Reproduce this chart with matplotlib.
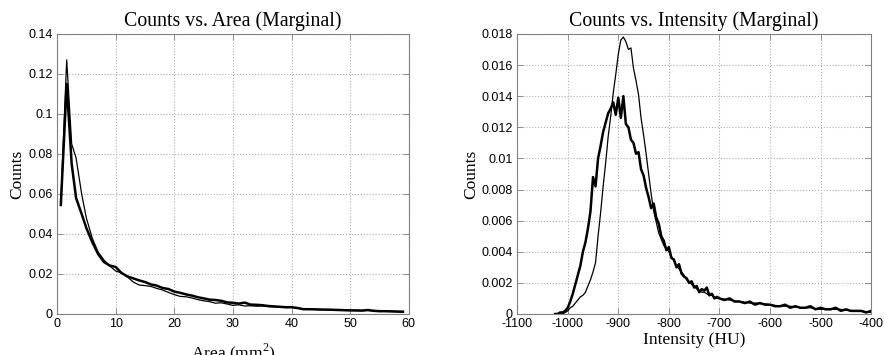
import matplotlib
matplotlib.use("Agg")
import matplotlib.pyplot as plt

# left panel: area marginals
area_x = [0.65, 1.65, 2.5, 3.25, 4.2, 5, 6, 7, 8, 9, 10, 11, 12, 13, 14, 15, 16, 17, 18, 19,
          20, 21, 22, 23, 24, 25, 26, 27, 28, 29, 30, 31, 32, 33, 34, 35, 36, 37, 38, 39,
          40, 41, 42, 43, 44, 45, 46, 47, 48, 49, 50, 51, 52, 53, 54, 55, 56, 57, 58, 59]
area_thick = [0.0545, 0.115, 0.075, 0.058, 0.050, 0.043, 0.036, 0.030, 0.026, 0.0242,
              0.0235, 0.0205, 0.0188, 0.0178, 0.0168, 0.016, 0.0148, 0.0142, 0.013, 0.0125,
              0.0112, 0.0106, 0.0098, 0.0092, 0.0084, 0.0078, 0.0072, 0.0070, 0.0066, 0.0058,
              0.0056, 0.0052, 0.0057, 0.0047, 0.0046, 0.0044, 0.0040, 0.0038, 0.0036, 0.0034,
              0.0034, 0.0030, 0.0024, 0.0024, 0.0023, 0.0022, 0.0022, 0.0021, 0.0020, 0.0019,
              0.0018, 0.0018, 0.0017, 0.0020, 0.0016, 0.0014, 0.0014, 0.0013, 0.0012, 0.0011]
area_thin = [0.056, 0.127, 0.085, 0.078, 0.060, 0.048, 0.038, 0.031, 0.027, 0.024,
             0.0215, 0.0205, 0.0185, 0.016, 0.0145, 0.0142, 0.0138, 0.0128, 0.012, 0.0108,
             0.0097, 0.0088, 0.0086, 0.0080, 0.0072, 0.0066, 0.0062, 0.0054, 0.0056, 0.0050,
             0.0043, 0.0046, 0.0040, 0.0041, 0.0039, 0.0040, 0.0037, 0.0036, 0.0034, 0.0032,
             0.0033, 0.0029, 0.0026, 0.0025, 0.0024, 0.0023, 0.0021, 0.0020, 0.0020, 0.0019,
             0.0018, 0.0017, 0.0017, 0.0018, 0.0015, 0.0015, 0.0014, 0.0014, 0.0013, 0.0013]

# right panel: intensity marginals
int_x_thick = list(range(-1025, -695, 5)) + list(range(-690, -395, 10))
int_thick = [0.0000, 0.0000, 0.0001, 0.0001, 0.0002, 0.0004, 0.0008, 0.0013, 0.0019, 0.0025,
             0.0031, 0.0040, 0.0046, 0.0055, 0.0066, 0.0088, 0.0082, 0.0100, 0.0108, 0.0117,
             0.0123, 0.0129, 0.0132, 0.0136, 0.0128, 0.0139, 0.0126, 0.0140, 0.0122, 0.0120,
             0.0112, 0.0110, 0.0103, 0.0104, 0.0093, 0.0089, 0.0081, 0.0075, 0.0068, 0.0071,
             0.0062, 0.0058, 0.0050, 0.0047, 0.0041, 0.0043, 0.0036, 0.0035, 0.0030, 0.0032,
             0.0026, 0.0024, 0.0023, 0.0020, 0.0021, 0.0017, 0.0018, 0.0014, 0.0016, 0.0015,
             0.0017, 0.0012, 0.0013, 0.0010, 0.0011, 0.0010,
             0.0009, 0.0010, 0.0008, 0.0008, 0.0007, 0.0008, 0.0006, 0.0007, 0.0006, 0.0006,
             0.0005, 0.0005, 0.0006, 0.0004, 0.0005, 0.0004, 0.0004, 0.0005, 0.0003, 0.0004,
             0.0003, 0.0003, 0.0004, 0.0002, 0.0003, 0.0002, 0.0002, 0.0002, 0.0001, 0.0002]
int_x_thin = list(range(-1015, -695, 5)) + list(range(-680, -395, 20))
int_thin = [0.0000, 0.0000, 0.0001, 0.0002, 0.0004, 0.0005, 0.0007, 0.0009, 0.0011, 0.0012,
            0.0014, 0.0018, 0.0022, 0.0027, 0.0033, 0.0050, 0.0065, 0.0082, 0.0097, 0.0114,
            0.0127, 0.0142, 0.0154, 0.0167, 0.0176, 0.0178, 0.0175, 0.0170, 0.0171, 0.0158,
            0.0150, 0.0141, 0.0126, 0.0115, 0.0103, 0.0090, 0.0077, 0.0066, 0.0059, 0.0052,
            0.0048, 0.0044, 0.0042, 0.0040, 0.0037, 0.0034, 0.0031, 0.0029, 0.0027, 0.0025,
            0.0022, 0.0021, 0.0019, 0.0018, 0.0016, 0.0015, 0.0014, 0.0014, 0.0013, 0.0012,
            0.0012, 0.0011, 0.0010, 0.0010,
            0.0009, 0.0008, 0.0007, 0.0007, 0.0006, 0.0005, 0.0005, 0.0004, 0.0004, 0.0003,
            0.0003, 0.0003, 0.0002, 0.0002, 0.0001]

plt.rcParams['font.family'] = 'Liberation Sans'
plt.rcParams['axes.unicode_minus'] = False
plt.rcParams['mathtext.fontset'] = 'custom'
plt.rcParams['mathtext.rm'] = 'Liberation Serif'

serif = 'Liberation Serif'

fig = plt.figure(figsize=(8.84, 3.55), dpi=100)
ax1 = fig.add_axes([0.0645, 0.1155, 0.398, 0.789])
ax2 = fig.add_axes([0.585, 0.1155, 0.4005, 0.789])


def style(ax):
    for s in ax.spines.values():
        s.set_color('#808080')
        s.set_linewidth(0.8)
    ax.tick_params(direction='in', top=True, right=True, length=4, width=0.6,
                   color='#808080', labelsize=9, labelcolor='black', pad=3)
    ax.grid(True, linestyle=':', color='#b0b0b0', linewidth=0.8)


ax1.plot(area_x, area_thin, color='black', lw=0.9)
ax1.plot(area_x, area_thick, color='black', lw=1.8)
ax1.set_xlim(0, 60)
ax1.set_ylim(0, 0.14)
ax1.set_xticks(range(0, 61, 10))
ax1.set_yticks([0, 0.02, 0.04, 0.06, 0.08, 0.1, 0.12, 0.14])
ax1.set_yticklabels(['0', '0.02', '0.04', '0.06', '0.08', '0.1', '0.12', '0.14'])
ax1.set_title('Counts vs. Area (Marginal)', fontfamily=serif, fontsize=14.3, pad=6)
ax1.set_ylabel('Counts', fontfamily=serif, fontsize=12.5, labelpad=2)
ax1.set_xlabel('Area (mm$^{2}$)', fontfamily=serif, fontsize=12.5, labelpad=8)
style(ax1)

ax2.plot(int_x_thin, int_thin, color='black', lw=0.9)
ax2.plot(int_x_thick, int_thick, color='black', lw=1.8)
ax2.set_xlim(-1100, -400)
ax2.set_ylim(0, 0.018)
ax2.set_xticks(range(-1100, -399, 100))
ax2.set_yticks([0, 0.002, 0.004, 0.006, 0.008, 0.01, 0.012, 0.014, 0.016, 0.018])
ax2.set_yticklabels(['0', '0.002', '0.004', '0.006', '0.008', '0.01', '0.012',
                     '0.014', '0.016', '0.018'])
ax2.set_title('Counts vs. Intensity (Marginal)', fontfamily=serif, fontsize=14.3, pad=6)
ax2.set_ylabel('Counts', fontfamily=serif, fontsize=12.5, labelpad=2)
ax2.set_xlabel('Intensity (HU)', fontfamily=serif, fontsize=12.5, labelpad=1)
style(ax2)

fig.savefig('out.png', dpi=100)
